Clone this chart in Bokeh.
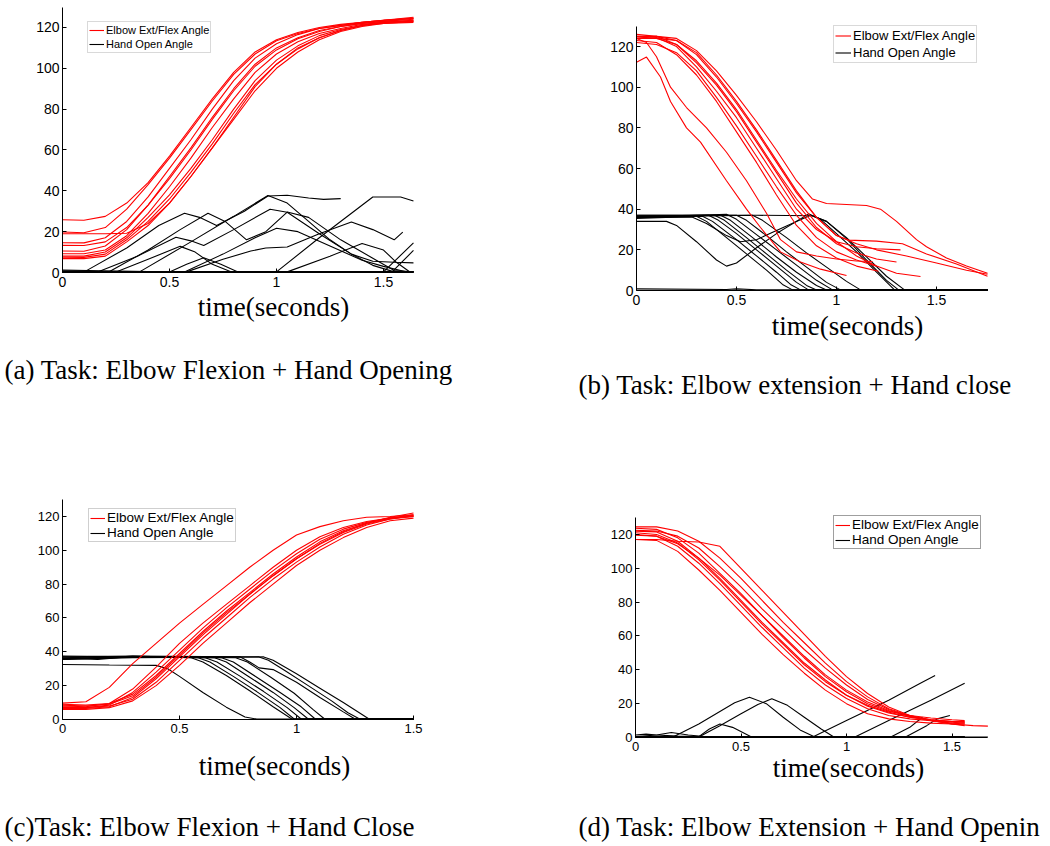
from bokeh.plotting import figure
from bokeh.models import (Label, Legend, LegendItem, FixedTicker, Range1d,
                          NumeralTickFormatter, LinearAxis)
from bokeh.embed import file_html
from bokeh.resources import INLINE

RED = "#ff0000"
BLACK = "#000000"

# ---------------- shared ticks / labels ----------------
y_ticks = [0, 20, 40, 60, 80, 100, 120]
x_ticks = [0, 0.5, 1, 1.5]
legend_labels = ["Elbow Ext/Flex Angle", "Hand Open Angle"]
x_label = "time(seconds)"
captions = ["(a) Task: Elbow Flexion + Hand Opening",
            "(b) Task: Elbow extension + Hand close",
            "(c)Task: Elbow Flexion + Hand Close",
            "(d) Task: Elbow Extension + Hand Openin"]
x_ends = [1.64, 1.755, 1.5, 1.67]
y_end = 130

# ---------------- panel (a) ----------------
a_elbow_t = [0, 0.1, 0.2, 0.3, 0.4, 0.5, 0.6, 0.7, 0.8, 0.9, 1.0, 1.1, 1.2, 1.3, 1.4, 1.5, 1.64]
a_elbow = [
    [25.8, 25.6, 27.5, 34, 44, 57, 71, 85, 98, 108, 114, 117.5, 120, 121.5, 122.5, 123.5, 124.5],
    [19.8, 19.5, 22, 31, 43, 56, 70, 84, 97, 107, 113.5, 117, 119.5, 121, 122.5, 123.5, 125],
    [19, 19, 19, 19.2, 24, 34, 47, 61, 76, 91, 102, 110, 115, 118.5, 121, 122.5, 123.5],
    [14.6, 14.5, 17, 25, 37, 51, 65, 80, 94, 105, 112, 116.5, 119.5, 121, 122.5, 123.5, 124.5],
    [13.3, 13.2, 15, 22, 33, 46, 60, 75, 89, 101, 109, 114.5, 118, 120.5, 122, 123, 124],
    [10.5, 10.4, 13, 21, 33, 47, 61, 76, 90, 102, 110, 115, 118.5, 120.5, 122, 123, 124.5],
    [9.2, 9.2, 11, 18, 29, 42, 56, 71, 85, 98, 107, 113, 117, 119.5, 121.5, 122.5, 123.5],
    [8, 8, 10, 17, 27, 38, 51, 65, 80, 94, 104, 111, 116, 119, 121, 122.5, 123],
    [6.8, 6.8, 8, 15, 23, 34, 47, 61, 75, 89, 100, 108, 114, 118, 120.5, 122, 122.5],
    [7.5, 7.4, 9, 16, 25, 36, 49, 63, 78, 92, 102, 109.5, 115, 118.5, 121, 122, 123],
]
a_hand_t = [
    [0, 0.11, 0.3, 0.45, 0.57, 0.64, 0.72, 0.85, 0.96, 1.05, 1.15, 1.22, 1.3],
    [0, 0.22, 0.4, 0.55, 0.68, 0.76, 0.86, 0.95, 1.05, 1.15, 1.3, 1.45, 1.55, 1.64],
    [0, 0.17, 0.35, 0.53, 0.6, 0.66, 0.8, 0.97, 1.05, 1.2, 1.35, 1.45, 1.55, 1.64],
    [0, 0.25, 0.4, 0.55, 0.62, 0.7, 0.79, 1.64],
    [0, 0.5, 0.58, 0.66, 0.74, 0.82, 1.64],
    [0, 0.36, 0.6, 0.8, 0.96, 1.05, 1.15, 1.25, 1.35, 1.45, 1.55, 1.64],
    [0, 0.57, 0.75, 0.9, 1.0, 1.1, 1.25, 1.4, 1.5, 1.6, 1.64],
    [0, 0.58, 0.75, 0.88, 0.95, 1.05, 1.2, 1.35, 1.45, 1.55, 1.59],
    [0, 1.05, 1.25, 1.4, 1.5, 1.56, 1.62, 1.64],
    [0, 1.0, 1.2, 1.45, 1.58, 1.64],
    [0, 1.5, 1.64],
    [0, 1.54, 1.64],
    [0, 0.12, 0.4, 1.64],
]
a_hand = [
    [0.8, 0.8, 12, 23, 29, 27, 23, 30, 37.5, 37.8, 36.5, 35.8, 36.2],
    [0.5, 0.5, 11, 21, 29, 25, 16, 20, 29.6, 27, 16, 7, 1, 0.3],
    [0.5, 0.5, 8, 17.3, 15.5, 13.2, 21, 31, 29.5, 19, 9, 5.5, 5, 4.7],
    [0.3, 0.3, 6.5, 12.8, 10, 4, 0.3, 0.3],
    [0.3, 0.3, 4, 7.2, 4, 0.3, 0.3],
    [0.3, 0.3, 15, 27.5, 37.7, 34, 25, 16, 9, 3.5, 0.3, 0.3],
    [0.3, 0.3, 9, 17, 21.7, 20, 13, 6, 3, 0.5, 0.3],
    [0.3, 0.3, 6.5, 10.5, 12, 12.5, 19, 24.7, 21, 16, 19.8],
    [0.3, 0.3, 8, 14.2, 11, 5, 0.5, 0.3],
    [0.3, 0.3, 17, 37, 37, 35],
    [0.3, 0.3, 14.5],
    [0.3, 0.3, 10.8],
    [1.2, 1.0, 0.5, 0.5],
]

# ---------------- panel (b) ----------------
b_elbow_t = [
    [0, 0.05, 0.12, 0.17, 0.25, 0.32, 0.45, 0.55, 0.62, 0.72, 0.82, 0.92, 1.05],
    [0, 0.05, 0.1, 0.17, 0.25, 0.35, 0.45, 0.55, 0.65, 0.72, 0.8, 0.9, 1.0, 1.1, 1.18],
    [0, 0.1, 0.2, 0.3, 0.4, 0.5, 0.6, 0.7, 0.8, 0.9, 1.0, 1.1, 1.21],
    [0, 0.1, 0.2, 0.3, 0.4, 0.5, 0.6, 0.7, 0.8, 0.9, 1.0, 1.1, 1.2, 1.32],
    [0, 0.1, 0.2, 0.3, 0.4, 0.5, 0.6, 0.7, 0.8, 0.9, 1.0, 1.1, 1.2, 1.3, 1.42],
    [0, 0.1, 0.2, 0.3, 0.4, 0.5, 0.6, 0.7, 0.8, 0.88, 0.95, 1.05, 1.15, 1.22, 1.3, 1.4, 1.45, 1.55, 1.65, 1.755],
    [0, 0.1, 0.2, 0.3, 0.4, 0.5, 0.6, 0.7, 0.8, 0.9, 1.0, 1.06, 1.2, 1.33, 1.45, 1.6, 1.755],
    [0, 0.1, 0.2, 0.3, 0.4, 0.5, 0.6, 0.7, 0.8, 0.9, 1.0, 1.1, 1.2, 1.35, 1.5, 1.65, 1.755],
    [0, 0.1, 0.2, 0.3, 0.4, 0.5, 0.6, 0.7, 0.8, 0.9, 1.0, 1.1, 1.2],
    [0, 0.1, 0.2, 0.3, 0.4, 0.5, 0.6, 0.7, 0.8, 0.9, 1.0, 1.1, 1.2, 1.3],
]
b_elbow = [
    [112.3, 114.8, 105, 93, 80, 73, 54, 40, 31, 19, 14, 10.5, 7.4],
    [124, 122, 115, 100, 90, 80, 68, 54, 38, 25, 19, 17, 15.5, 14.5, 14.3],
    [123, 122, 116, 106, 93, 78, 63, 47, 32, 22, 16, 12, 9.5],
    [125, 124.5, 120, 110, 98, 85, 70, 55, 40, 30, 24, 21.5, 20.5, 20],
    [124, 124, 121, 113, 102, 89, 74, 59, 45, 33, 24, 17, 12, 8.5, 6.9],
    [124, 125, 124, 118, 108, 96, 83, 69, 54, 45, 42.8, 42.3, 41.8, 40, 34, 25, 21.5, 16, 12, 8.5],
    [125, 125, 123, 116, 105, 92, 78, 63, 48, 36, 27, 24.8, 24.3, 23, 18, 13, 7],
    [124, 124, 123, 117, 106, 93, 79, 64, 49, 36, 27, 23, 20, 17, 13.5, 10, 8],
    [122, 121, 117, 108, 95, 81, 66, 51, 37, 26, 19, 15, 12],
    [126, 125, 121, 112, 101, 88, 73, 58, 43, 31, 23, 18.5, 15.5, 14],
]
b_hand_t = [
    [0, 0.45, 0.5, 0.6, 1.0, 1.755],
    [0, 0.15, 0.2, 0.3, 0.4, 0.45, 0.5, 0.6, 0.7, 0.8, 0.86, 0.92, 1.0, 1.1, 1.2, 1.29, 1.755],
    [0, 0.28, 0.35, 0.45, 0.52, 0.6, 0.7, 0.8, 0.87, 0.95, 1.05, 1.15, 1.25, 1.31, 1.755],
    [0, 0.3, 0.6, 0.88, 0.95, 1.05, 1.15, 1.25, 1.34, 1.755],
    [0, 0.3, 0.35, 0.45, 0.55, 0.65, 0.73, 0.78, 1.755],
    [0, 0.33, 0.38, 0.5, 0.6, 0.7, 0.77, 0.82, 1.755],
    [0, 0.36, 0.41, 0.5, 0.6, 0.7, 0.8, 0.86, 1.755],
    [0, 0.39, 0.44, 0.55, 0.65, 0.75, 0.85, 0.9, 1.755],
    [0, 0.42, 0.47, 0.6, 0.7, 0.8, 0.9, 0.95, 1.755],
    [0, 0.45, 0.5, 0.6, 0.7, 0.8, 0.9, 0.98, 1.755],
    [0, 0.5, 0.55, 0.65, 0.75, 0.85, 0.95, 1.02, 1.755],
    [0, 0.58, 0.63, 0.75, 0.85, 0.95, 1.05, 1.12, 1.755],
]
b_hand = [
    [0.8, 0.5, 0.8, 0.4, 0.3, 0.3],
    [34, 34, 32, 24, 15, 12, 13.5, 21, 28, 34, 37.7, 35, 28, 19, 9, 0.3, 0.2],
    [36, 36, 33, 27, 24, 25, 29.5, 34, 37, 34, 25.5, 15, 5, 0.3, 0.2],
    [36.5, 37, 37, 36.8, 34, 26, 16.5, 7, 0.3, 0.2],
    [36, 36.5, 34, 26, 18, 10, 3, 0.3, 0.3],
    [35.5, 36.5, 34, 25, 17, 9, 3, 0.3, 0.3],
    [37, 37, 34.5, 28, 20, 12, 4, 0.3, 0.3],
    [36, 37, 34.5, 26, 18, 10, 2.5, 0.3, 0.3],
    [36.5, 37, 34.5, 24.5, 16.5, 9, 2.5, 0.3, 0.3],
    [36, 37.5, 35, 27.5, 20, 12.5, 5, 0.3, 0.3],
    [37, 37, 34.5, 27, 19, 11.5, 4, 0.3, 0.3],
    [36, 37, 34.5, 26, 18.5, 11.5, 4.5, 0.3, 0.3],
]

# ---------------- panel (c) ----------------
c_elbow_t = [0, 0.1, 0.2, 0.3, 0.4, 0.5, 0.6, 0.7, 0.8, 0.9, 1.0, 1.1, 1.2, 1.3, 1.4, 1.5]
c_elbow = [
    [9.7, 10.5, 19, 33, 45, 57, 68, 79, 90, 100, 109, 114, 117.5, 119.5, 120, 121],
    [8, 7.5, 9.5, 18, 31, 45, 57, 68, 79, 90, 100, 108, 113.5, 117, 119, 120.5],
    [7, 7, 8.5, 16, 28, 41, 54, 66, 77, 88, 98, 106.5, 112.5, 116.5, 119, 120],
    [9, 8.5, 9.5, 15, 26, 39, 52, 64, 75, 86, 96, 105, 111.5, 116, 119, 121],
    [8.5, 8, 9, 14, 25, 38, 51, 63, 74, 85, 95, 103.5, 110.5, 115.5, 118.5, 120],
    [6.5, 6.5, 7.5, 13, 24, 37, 50, 62, 74, 85, 95, 104, 111, 116, 119.5, 122],
    [7.5, 7, 8, 12, 22, 35, 48, 60, 72, 83, 93, 102, 109.5, 115, 118.5, 120.5],
    [6, 6, 7, 11, 20, 32, 45, 57, 69, 80, 91, 100, 107.5, 113.5, 117.5, 119],
]
c_hand_t = [
    [0, 0.2, 0.4, 0.45, 0.5, 0.6, 0.7, 0.78, 0.83, 1.5],
    [0, 0.15, 0.3, 0.55, 0.6, 0.7, 0.8, 0.9, 0.98, 1.5],
    [0, 0.15, 0.3, 0.58, 0.63, 0.73, 0.83, 0.93, 0.99, 1.5],
    [0, 0.3, 0.61, 0.66, 0.76, 0.86, 0.96, 1.02, 1.5],
    [0, 0.3, 0.65, 0.7, 0.8, 0.9, 0.99, 1.05, 1.5],
    [0, 0.3, 0.68, 0.73, 0.83, 0.93, 1.02, 1.08, 1.5],
    [0, 0.3, 0.74, 0.79, 0.89, 0.99, 1.07, 1.12, 1.5],
    [0, 0.3, 0.76, 0.8, 0.84, 0.9, 1.0, 1.1, 1.2, 1.25, 1.5],
    [0, 0.3, 0.84, 0.88, 0.95, 1.05, 1.15, 1.22, 1.27, 1.5],
    [0, 0.3, 0.86, 0.9, 1.0, 1.1, 1.2, 1.28, 1.31, 1.5],
]
c_hand = [
    [32.5, 32.2, 32, 30, 25.5, 16, 7.3, 1.5, 0.2, 0.2],
    [36.5, 35.5, 37.2, 36.5, 34, 26, 17, 7.5, 0.3, 0.3],
    [37, 36, 37.5, 36.5, 34, 25.5, 16.5, 7, 0.3, 0.3],
    [35.5, 37, 36.5, 34, 25.5, 16.5, 7, 0.3, 0.3],
    [36, 37, 36.5, 34, 25, 16, 7, 0.3, 0.3],
    [37.5, 37, 36.5, 34, 25, 16, 7.5, 0.3, 0.3],
    [36, 37, 36.5, 34, 25, 15.5, 6, 0.3, 0.3],
    [37, 37.5, 37, 34, 30.5, 29.5, 22, 13, 4.5, 0.3, 0.3],
    [36, 37, 37, 35, 29, 20, 11, 4, 0.3, 0.3],
    [35.5, 36.5, 37, 35, 27, 18.5, 10, 3, 0.3, 0.3],
]

# ---------------- panel (d) ----------------
d_grid = [0, 0.1, 0.2, 0.3, 0.4, 0.5, 0.6, 0.7, 0.8, 0.9, 1.0, 1.1, 1.2, 1.3, 1.4, 1.5, 1.56]
d_elbow_t = [d_grid] * 8 + [
    [0, 0.1, 0.2, 0.3, 0.4, 0.5, 0.6, 0.7, 0.8, 0.9, 1.0, 1.1, 1.2, 1.3, 1.4, 1.5, 1.6, 1.67]]
d_elbow = [
    [117, 116.5, 110, 99, 87, 74, 61, 49, 38, 28, 20, 14, 11, 9.5, 8.5, 8, 8],
    [120, 119, 113, 103, 91, 78, 65, 53, 41, 31, 23, 17, 13, 11, 10, 9.5, 9.5],
    [122, 121.5, 116, 106, 94, 81, 68, 56, 44, 34, 25, 18.5, 14.5, 12, 10.5, 9.5, 9],
    [123.7, 123, 118, 109, 97, 85, 72, 59, 47, 36, 27, 20, 15.5, 13, 11.5, 10.5, 10],
    [124.5, 124.5, 122, 116, 106, 94, 81, 68, 56, 44, 33, 24, 17, 13, 10.5, 9, 8.5],
    [122.5, 122, 119, 112, 101, 89, 76, 64, 52, 41, 31, 22.5, 16.5, 12.5, 10, 8.5, 8],
    [121, 120, 115, 105, 93, 80, 67, 55, 43, 33, 25, 19, 15, 12, 10.5, 9.5, 9],
    [119.5, 119, 114.5, 106, 96, 84, 72, 60, 48, 37, 28, 21, 16, 12.5, 10, 8, 7],
    [117, 117, 116, 115.5, 113, 100, 87, 74, 61, 48, 36, 26, 18, 13, 10, 8, 7, 6.7],
]
d_hand_t = [
    [0, 0.8, 1.67],
    [0, 0.05, 0.1, 0.2, 0.3, 0.4, 1.56],
    [0, 0.1, 0.17, 0.25, 0.35, 1.56],
    [0, 0.18, 0.3, 0.4, 0.47, 0.54, 0.62, 0.7, 0.78, 0.85, 1.56],
    [0, 0.3, 0.4, 0.5, 0.58, 0.646, 0.72, 0.8, 0.88, 0.94, 1.56],
    [0, 0.3, 0.35, 0.4, 0.46, 0.55, 1.56],
    [0, 0.84, 1.0, 1.2, 1.35, 1.42],
    [0, 1.04, 1.2, 1.4, 1.56],
    [0, 1.21, 1.3, 1.36],
    [0, 1.28, 1.38, 1.43, 1.49],
]
d_hand = [
    [0.3, 0.3, 0.3],
    [1.5, 2, 1.5, 0.8, 0.5, 0.3, 0.3],
    [0.5, 1.5, 3, 1.5, 0.3, 0.3],
    [0.5, 0.5, 8, 15.4, 20.5, 23.8, 20, 12, 4.5, 0.3, 0.3],
    [0.3, 0.3, 7, 14, 19.5, 22.9, 19, 12, 5, 0.3, 0.3],
    [0.3, 0.5, 5, 8, 6, 0.3, 0.3],
    [0.3, 0.3, 10, 22, 32, 36.6],
    [0.3, 0.3, 10, 22, 32.1],
    [0.3, 0.3, 6, 12],
    [0.3, 0.3, 7, 11, 13],
]

# ---------------- page geometry (pixels) ----------------
W, H = 1050, 846
# per panel: origin x px, px per second, origin y px, px per degree
geom = [(62, 214.0, 272, 2.042), (636, 200.0, 290, 2.033),
        (62, 234.0, 719, 1.692), (635, 211.0, 737, 1.692)]
tick_px = [14, 14, 13, 13]
# legend: left px, bottom px, font px, glyph w, row h, border colour
legend_geom = [(87, 53, 11, 15, 14, "#b4b4b4"), (833, 63, 13, 16, 17, "#b4b4b4"),
               (88, 542, 13.5, 15, 14, "#a0a0a0"), (833, 549, 13.5, 15, 14, "#404040")]
xlabel_pos = [(273, 306), (847, 325), (274, 765), (848, 767)]
caption_pos = [(4, 369), (578, 384), (4, 826), (578, 826)]

p = figure(width=W, height=H, x_range=Range1d(0, W), y_range=Range1d(0, H),
           x_axis_type=None, y_axis_type=None,
           output_backend="svg", toolbar_location=None,
           min_border=0, min_border_left=0, min_border_right=0,
           min_border_top=0, min_border_bottom=0)
p.title.visible = False
p.outline_line_color = None
p.grid.visible = False
p.background_fill_color = "white"
p.border_fill_color = "white"

panels = [
    ([a_elbow_t] * len(a_elbow), a_elbow, a_hand_t, a_hand),
    (b_elbow_t, b_elbow, b_hand_t, b_hand),
    ([c_elbow_t] * len(c_elbow), c_elbow, c_hand_t, c_hand),
    (d_elbow_t, d_elbow, d_hand_t, d_hand),
]

for i, (et, ev, ht, hv) in enumerate(panels):
    x0, sx, y0, sy = geom[i]
    xn, yn = f"x{i}", f"y{i}"
    p.extra_x_ranges[xn] = Range1d(-x0 / sx, (W - x0) / sx)
    p.extra_y_ranges[yn] = Range1d(-(H - y0) / sy, y0 / sy)

    xax = LinearAxis(x_range_name=xn, y_range_name=yn, fixed_location=0,
                     bounds=(0, x_ends[i]), ticker=FixedTicker(ticks=x_ticks),
                     formatter=NumeralTickFormatter(format="0.[0]"))
    yax = LinearAxis(x_range_name=xn, y_range_name=yn, fixed_location=0,
                     bounds=(0, y_end), ticker=FixedTicker(ticks=y_ticks))
    for ax in (xax, yax):
        ax.axis_line_color = "black"
        ax.axis_line_width = 1
        ax.major_tick_in = 4
        ax.major_tick_out = 0
        ax.major_tick_line_color = "black"
        ax.minor_tick_line_color = None
        ax.major_label_text_font = "Liberation Sans"
        ax.major_label_text_font_size = f"{tick_px[i]}px"
        ax.major_label_text_color = "black"
    xax.major_label_standoff = 4
    yax.major_label_standoff = 3
    p.add_layout(xax, "below")
    p.add_layout(yax, "left")

    black_r = [p.line(t, v, line_color=BLACK, line_width=1.1,
                      x_range_name=xn, y_range_name=yn) for t, v in zip(ht, hv)]
    red_r = [p.line(t, v, line_color=RED, line_width=1.1,
                    x_range_name=xn, y_range_name=yn) for t, v in zip(et, ev)]

    lx, lb, fs, gw, gh, bcol = legend_geom[i]
    legend = Legend(items=[LegendItem(label=legend_labels[0], renderers=[red_r[0]]),
                           LegendItem(label=legend_labels[1], renderers=[black_r[0]])],
                    location=(lx, H - lb), margin=0, padding=1, spacing=0,
                    glyph_width=gw, glyph_height=gh, label_height=gh,
                    label_standoff=2, label_text_font="Liberation Sans",
                    label_text_font_size=f"{fs}px", label_text_color="black",
                    border_line_color=bcol, border_line_width=1,
                    background_fill_color="white", background_fill_alpha=1.0)
    p.add_layout(legend)

    lxp, lyp = xlabel_pos[i]
    p.add_layout(Label(x=(lxp - x0) / sx, y=(y0 - lyp) / sy, text=x_label,
                       x_range_name=xn, y_range_name=yn,
                       text_font="Liberation Serif", text_font_size="27px",
                       text_align="center", text_baseline="alphabetic",
                       text_color="black"))
    cxp, cyp = caption_pos[i]
    p.add_layout(Label(x=(cxp - x0) / sx, y=(y0 - cyp) / sy, text=captions[i],
                       x_range_name=xn, y_range_name=yn,
                       text_font="Liberation Serif", text_font_size="27px",
                       text_align="left", text_baseline="alphabetic",
                       text_color="black"))

open("out.html", "w").write(file_html(p, INLINE))
